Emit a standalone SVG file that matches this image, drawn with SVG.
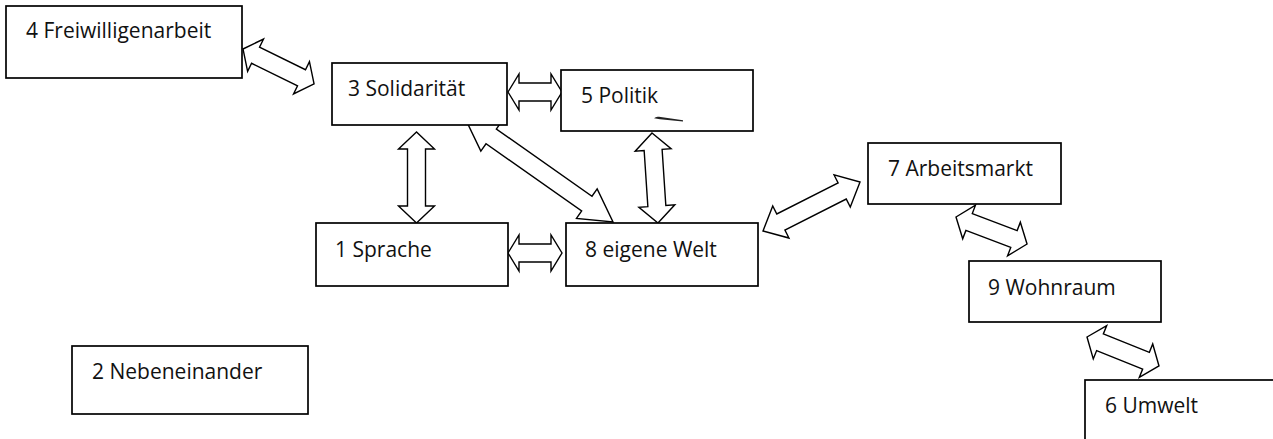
<svg xmlns="http://www.w3.org/2000/svg" width="1273" height="439" viewBox="0 0 1273 439">
<style>
.box{fill:#fff;stroke:#000;stroke-width:1.7}
.lbl{font-family:"Open Sans","Liberation Sans",sans-serif;font-size:21px;fill:#111}
.arr{fill:#fff;stroke:#000;stroke-width:1.4;stroke-linejoin:miter}
</style>
<rect width="1273" height="439" fill="#fff"/>
<g id="connectors">
<polygon class="arr" transform="translate(243,49) rotate(26.2)" points="0,0 14,-18 14,-9 65.2,-9 65.2,-18 79.2,0 65.2,18 65.2,9 14,9 14,18"/>
<polygon class="arr" points="508,92 519,74 519,83 551,83 551,74 562,92 551,110 551,101 519,101 519,110"/>
<polygon class="arr" points="416.5,132 398.5,149 407.5,149 407.5,206 398.5,206 416.5,223 434.5,206 425.5,206 425.5,149 434.5,149"/>
<polygon class="arr" transform="translate(465,118) rotate(35.1)" points="0,0 32,-18 32,-9 148.9,-9 148.9,-18 180.9,0 148.9,18 148.9,9 32,9 32,18"/>
<polygon class="arr" transform="translate(652,133) rotate(86.2)" points="0,0 17,-18 17,-9 73.2,-9 73.2,-18 90.2,0 73.2,18 73.2,9 17,9 17,18"/>
<polygon class="arr" points="508,253 519,235 519,244 551,244 551,235 562,253 551,271 551,262 519,262 519,271"/>
<polygon class="arr" transform="translate(763,231) rotate(-26.8)" points="0,0 20,-18 20,-9 88.7,-9 88.7,-18 108.7,0 88.7,18 88.7,9 20,9 20,18"/>
<polygon class="arr" transform="translate(956,217) rotate(20.8)" points="0,0 14,-18 14,-9 62,-9 62,-18 76,0 62,18 62,9 14,9 14,18"/>
<polygon class="arr" transform="translate(1087,337) rotate(21.9)" points="0,0 14,-18 14,-9 63.6,-9 63.6,-18 77.6,0 63.6,18 63.6,9 14,9 14,18"/>
</g>
<g id="n4"><rect class="box" x="6" y="6" width="236" height="72"/><text class="lbl" x="26" y="38">4 Freiwilligenarbeit</text></g>
<g id="n3"><rect class="box" x="332" y="63" width="175" height="62"/><text class="lbl" x="348" y="96">3 Solidarität</text></g>
<g id="n5"><rect class="box" x="561" y="70" width="192" height="61"/><text class="lbl" x="581" y="103">5 Politik</text><path d="M654,118.3 Q656,116.2 659,116.8 L683,120.2 L683,121.6 L660,119.2 Z" fill="#222"/></g>
<g id="n7"><rect class="box" x="868" y="143" width="193" height="61"/><text class="lbl" x="888" y="176">7 Arbeitsmarkt</text></g>
<g id="n1"><rect class="box" x="316" y="223" width="192" height="63"/><text class="lbl" x="335" y="257">1 Sprache</text></g>
<g id="n8"><rect class="box" x="566" y="223" width="192" height="63"/><text class="lbl" x="585" y="257">8 eigene Welt</text></g>
<g id="n9"><rect class="box" x="969" y="261" width="192" height="61"/><text class="lbl" x="988" y="295">9 Wohnraum</text></g>
<g id="n2"><rect class="box" x="72" y="346" width="236" height="68"/><text class="lbl" x="92" y="379">2 Nebeneinander</text></g>
<g id="n6"><rect class="box" x="1085" y="380" width="210" height="80"/><text class="lbl" x="1105" y="413">6 Umwelt</text></g>
</svg>
